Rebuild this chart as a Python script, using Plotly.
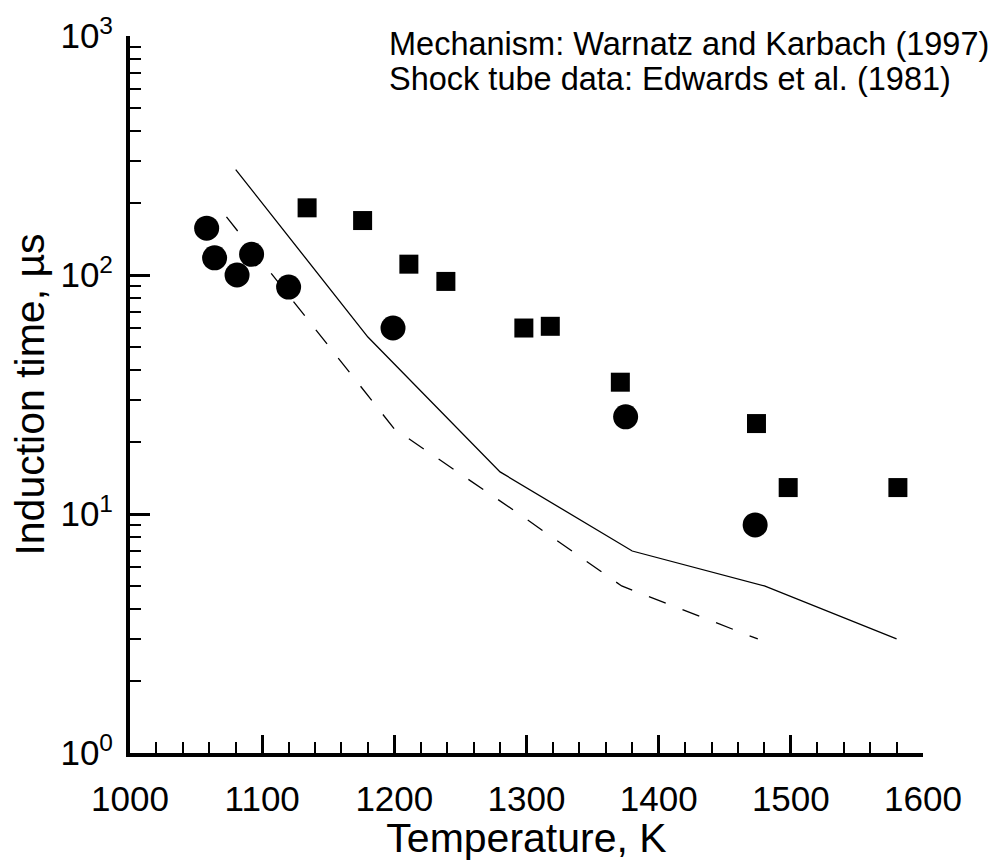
import plotly.graph_objects as go

# Shock tube data (Edwards et al. 1981)
circle_T = [1058, 1064, 1081, 1092, 1120, 1199, 1375, 1473]
circle_tau = [157, 118, 100, 122, 89, 60, 25.5, 9.0]
square_T = [1134, 1176, 1211, 1239, 1298, 1318, 1371, 1474, 1498, 1581]
square_tau = [191, 169, 111, 94, 60, 61, 35.6, 23.9, 12.9, 12.9]

# Mechanism curves
solid_T = [1080, 1180, 1280, 1380, 1480, 1580]
solid_tau = [276, 55, 15, 7.0, 5.0, 3.0]
dash_T = [1073, 1200, 1290, 1372, 1475]
dash_tau = [175, 22.7, 10.4, 5.0, 3.0]

x_ticks = [1000, 1100, 1200, 1300, 1400, 1500, 1600]
y_ticks = [1, 10, 100, 1000]
y_ticktext = ["10<sup>0</sup>", "10<sup>1</sup>", "10<sup>2</sup>", "10<sup>3</sup>"]
y_minor = [m * 10 ** d for d in range(3) for m in range(2, 10)]

FONT = "Liberation Sans, Arial, sans-serif"

fig = go.Figure()
fig.add_trace(go.Scatter(x=solid_T, y=solid_tau, mode="lines",
                         line=dict(color="black", width=1.3), showlegend=False))
fig.add_trace(go.Scatter(x=dash_T, y=dash_tau, mode="lines",
                         line=dict(color="black", width=1.3, dash="18px,18px"), showlegend=False))
fig.add_trace(go.Scatter(x=circle_T, y=circle_tau, mode="markers",
                         marker=dict(symbol="circle", size=25, color="black"), showlegend=False))
fig.add_trace(go.Scatter(x=square_T, y=square_tau, mode="markers",
                         marker=dict(symbol="square", size=19, color="black"), showlegend=False))

fig.update_layout(
    width=995, height=861,
    margin=dict(l=130, r=72, t=34, b=104),
    paper_bgcolor="white", plot_bgcolor="white",
    font=dict(family=FONT, color="black"),
    xaxis=dict(
        range=[1000, 1600], tickvals=x_ticks, ticks="inside", ticklen=18, tickwidth=3,
        tickcolor="black", showline=True, linecolor="black", linewidth=4,
        showgrid=False, zeroline=False, tickfont=dict(size=35), ticklabelstandoff=12,
        minor=dict(dtick=20, tick0=1000, ticks="inside", ticklen=11, tickwidth=1.5,
                   tickcolor="black", showgrid=False),
        title=dict(text="Temperature, K", font=dict(size=41), standoff=2),
    ),
    yaxis=dict(
        type="log", range=[0, 3], tickvals=y_ticks, ticktext=y_ticktext, ticks="inside",
        ticklen=20, tickwidth=3, tickcolor="black", showline=True, linecolor="black",
        linewidth=4, showgrid=False, zeroline=False, tickfont=dict(size=35),
        ticklabelstandoff=6,
        minor=dict(tickmode="array", tickvals=y_minor, ticks="inside", ticklen=11,
                   tickwidth=1.5, tickcolor="black", showgrid=False),
        title=dict(text="Induction time, µs", font=dict(size=41), standoff=4),
    ),
    annotations=[
        dict(text="Mechanism: Warnatz and Karbach (1997)", xref="paper", yref="paper",
             x=0.3242, y=0.989, xanchor="left", yanchor="middle", showarrow=False,
             font=dict(size=32.5, family=FONT)),
        dict(text="Shock tube data: Edwards et al. (1981)", xref="paper", yref="paper",
             x=0.3242, y=0.9405, xanchor="left", yanchor="middle", showarrow=False,
             font=dict(size=32.5, family=FONT)),
    ],
)

fig.write_html("out.html")
